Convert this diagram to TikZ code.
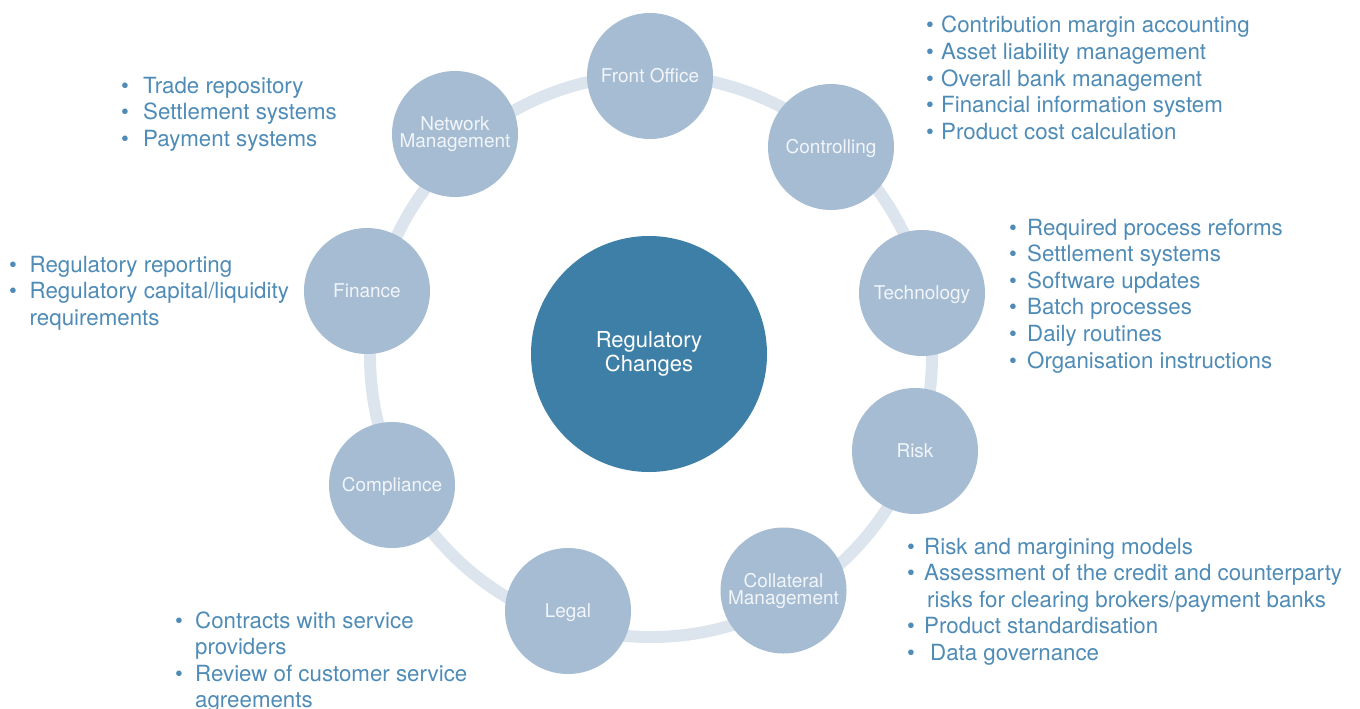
\documentclass[tikz,border=0pt]{standalone}
\usepackage{fontspec}
\setmainfont{TeX Gyre Heros}
\definecolor{ringc}{HTML}{DCE4EE}
\definecolor{smallc}{HTML}{A5BCD3}
\definecolor{bigc}{HTML}{3D7FA6}
\definecolor{txtc}{HTML}{4E8BB6}
\definecolor{lblc}{HTML}{F2F5F9}
\newcommand{\bitem}[2][16pt]{\makebox[#1][l]{\textbullet}#2}
\newcommand{\bcont}[2][16pt]{\hspace*{#1}#2}
\begin{document}
\begin{tikzpicture}[x=1pt,y=-1pt,
  small/.style={circle, fill=smallc, minimum size=126pt, inner sep=0pt, text=lblc,
    font=\fontsize{19}{17}\selectfont, align=center},
  oneline/.style={text height=13.5pt, text depth=0pt},
  big/.style={circle, fill=bigc, minimum size=236pt, inner sep=0pt, text=white,
    font=\fontsize{22}{24.5}\selectfont, align=center},
  list/.style={anchor=base west, inner sep=0pt, text=txtc,
    font=\fontsize{22.3}{26.6}\selectfont}]
\useasboundingbox (0,0) rectangle (1360,709);
% ring
\draw[ringc, line width=12pt] (651,356) circle[radius=281pt];
% centre
\node[big] (center) at (649,354) {Regulatory\\Changes};
% satellites
\node[small, oneline] (front) at (650,76) {Front Office};
\node[small] (network) at (455,134) {Network\\Management};
\node[small, oneline] (controlling) at (831,147) {Controlling};
\node[small, oneline] (technology) at (922,293) {Technology};
\node[small, oneline] (risk) at (915,451) {Risk};
\node[small] (collateral) at (783.5,590.5) {Collateral\\Management};
\node[small, oneline] (legal) at (568,611) {Legal};
\node[small, oneline] (compliance) at (392,485) {Compliance};
\node[small, oneline] (finance) at (367,291) {Finance};
% lists
\node[list] (ctl-list) at (926,33) {\begin{tabular}[t]{@{}l@{}}
\bitem[15pt]{Contribution margin accounting}\\
\bitem[15pt]{Asset liability management}\\
\bitem[15pt]{Overall bank management}\\
\bitem[15pt]{Financial information system}\\
\bitem[15pt]{Product cost calculation}
\end{tabular}};
\node[list] (net-list) at (121,93) {\begin{tabular}[t]{@{}l@{}}
\bitem[22pt]{Trade repository}\\
\bitem[22pt]{Settlement systems}\\
\bitem[22pt]{Payment systems}
\end{tabular}};
\node[list] (fin-list) at (9,272) {\begin{tabular}[t]{@{}l@{}}
\bitem[20.5pt]{Regulatory reporting}\\
\bitem[20.5pt]{Regulatory capital/liquidity}\\
\bcont[20.5pt]{requirements}
\end{tabular}};
\node[list] (tech-list) at (1009,235) {\begin{tabular}[t]{@{}l@{}}
\bitem[18pt]{Required process reforms}\\
\bitem[18pt]{Settlement systems}\\
\bitem[18pt]{Software updates}\\
\bitem[18pt]{Batch processes}\\
\bitem[18pt]{Daily routines}\\
\bitem[18pt]{Organisation instructions}
\end{tabular}};
\node[list] (coll-list) at (907,554) {\begin{tabular}[t]{@{}l@{}}
\bitem[17pt]{Risk and margining models}\\
\bitem[17pt]{Assessment of the credit and counterparty}\\
\bcont[20pt]{risks for clearing brokers/payment banks}\\
\bitem[17pt]{Product standardisation}\\
\bitem[17pt]{\hspace*{6pt}Data governance}
\end{tabular}};
\node[list] (legal-list) at (175,628) {\begin{tabular}[t]{@{}l@{}}
\bitem[20pt]{Contracts with service}\\
\bcont[20pt]{providers}\\
\bitem[20pt]{Review of customer service}\\
\bcont[20pt]{agreements}
\end{tabular}};
\end{tikzpicture}
\end{document}
